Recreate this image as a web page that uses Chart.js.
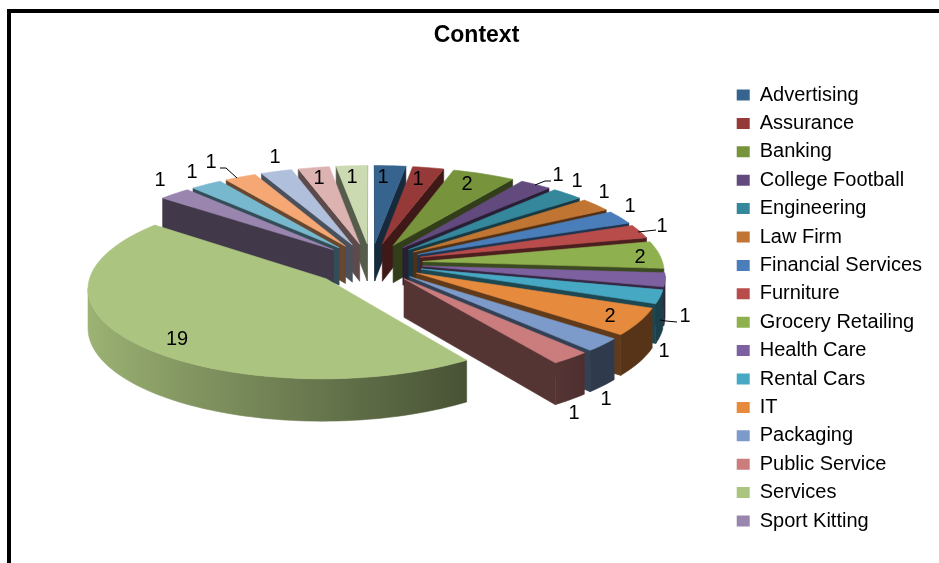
<!DOCTYPE html>
<html lang="en">

<head>
    <meta charset="UTF-8" />
    <title>Context</title>
    <script src="https://cdn.jsdelivr.net/npm/chart.js"></script>
    <style>
        body {
            margin: 0;
            background: white;
            overflow: hidden;
        }

        #frame {
            position: absolute;
            left: 7px;
            top: 9px;
            right: 0;
            bottom: 0;
            border-left: 4px solid black;
            border-top: 4px solid black;
        }

        canvas {
            position: absolute;
            left: 0;
            top: 0;
        }
    </style>
</head>

<body>
    <div id="frame"></div>
    <canvas id="contextChart" width="939" height="563" role="img" aria-label="3D exploded pie chart of context"></canvas>

    <script>
        // the last five slices have no name: the legend in the picture stops at Sport Kitting
        const categories = ['Advertising', 'Assurance', 'Banking', 'College Football', 'Engineering', 'Law Firm',
            'Financial Services', 'Furniture', 'Grocery Retailing', 'Health Care', 'Rental Cars', 'IT', 'Packaging',
            'Public Service', 'Services', 'Sport Kitting', '', '', '', '', ''];
        const counts = [1, 1, 2, 1, 1, 1, 1, 1, 2, 1, 1, 2, 1, 1, 19, 1, 1, 1, 1, 1, 1];
        const colors = ['#37638F', '#953A38', '#77933C', '#624A7E', '#35879C', '#C07533', '#4A7EBB', '#B84C4A',
            '#8FB04F', '#7D60A0', '#46A8C2', '#E68A3E', '#7C9BCA', '#CB7C7C', '#ABC47F', '#9A85AE', '#77B8CF',
            '#F5A873', '#AFBFDC', '#DDB3B2', '#CCDAB2'];

        // hand placed data labels, same order as counts
        const labelSpots = [[383, 177], [418, 179], [467, 184], [558, 175], [577, 181], [604, 192], [630, 206],
            [662, 226], [640, 257], [685, 316], [664, 351], [610, 316], [606, 399], [574, 413], [177, 339],
            [160, 180], [192, 172], [211, 162], [275, 157], [319, 178], [352, 177]];
        const leaders = [
            [[535, 185], [545, 181], [551, 181]],
            [[638, 232], [656, 230]],
            [[660, 320], [666, 321], [677, 322]],
            [[237, 178], [226, 168], [220, 168]]
        ];

        const pie = { cx: 371, cy: 263, radius: 240, tilt: 0.38, persp: 0.1, depth: 38, explode: 52 };
        // the big slice sits further out and a little smaller than the rest
        const sliceTweaks = { 14: { explode: 60, radius: 0.97 } };

        function project(x, y, z) {
            const s = 1 + pie.persp * y / pie.radius;
            return { x: pie.cx + x * s, y: pie.cy + y * pie.tilt * s + z * s };
        }

        function shade(hex, f) {
            const n = parseInt(hex.slice(1), 16);
            const r = Math.round((n >> 16) * f), g = Math.round(((n >> 8) & 255) * f), b = Math.round((n & 255) * f);
            return `rgb(${r},${g},${b})`;
        }

        function rimShade(a) {
            return Math.max(0.38, Math.min(0.92, 0.6 - 0.32 * Math.sin(a)));
        }

        function fillPoly(ctx, pts, color) {
            ctx.beginPath();
            pts.forEach((p, i) => i ? ctx.lineTo(p.x, p.y) : ctx.moveTo(p.x, p.y));
            ctx.closePath();
            ctx.fillStyle = color;
            ctx.strokeStyle = color;
            ctx.lineWidth = 0.6;
            ctx.fill();
            ctx.stroke();
        }

        function drawSlice(ctx, arc, i) {
            const color = colors[i];
            const tweak = sliceTweaks[i] || {};
            const explode = tweak.explode || pie.explode;
            const radius = pie.radius * (tweak.radius || 1);
            // chart.js angles start at 3 o'clock, the projection wants clock angles from the top
            const a0 = arc.startAngle + Math.PI / 2;
            const a1 = arc.endAngle + Math.PI / 2;
            const mid = (a0 + a1) / 2;
            const ox = Math.sin(mid) * explode;
            const oy = -Math.cos(mid) * explode;

            const ring = [{ x: ox, y: oy, a: null }];
            const steps = Math.max(4, Math.ceil((a1 - a0) / 0.03));
            for (let k = 0; k <= steps; k++) {
                const a = a0 + (a1 - a0) * k / steps;
                ring.push({ x: ox + Math.sin(a) * radius, y: oy - Math.cos(a) * radius, a: a });
            }

            const top = ring.map(p => project(p.x, p.y, 0));
            const low = ring.map(p => project(p.x, p.y, pie.depth));

            // flat cut faces
            for (const [p, q] of [[0, 1], [ring.length - 1, 0]]) {
                if (top[q].x - top[p].x < 0) fillPoly(ctx, [top[p], top[q], low[q], low[p]], shade(color, 0.42));
            }

            // curved outer wall, one polygon with a gradient so no seams show
            const seen = [];
            for (let k = 1; k < ring.length - 1; k++) {
                if (top[k + 1].x - top[k].x < 0) {
                    if (!seen.length) seen.push(k);
                    seen.push(k + 1);
                }
            }
            if (seen.length) {
                const upper = seen.map(k => top[k]);
                const lower = seen.map(k => low[k]).reverse();
                const xs = upper.map(p => p.x);
                const minX = Math.min(...xs), maxX = Math.max(...xs);
                const grad = ctx.createLinearGradient(minX, 0, maxX, 0);
                seen.forEach(k => {
                    grad.addColorStop((top[k].x - minX) / Math.max(1, maxX - minX), shade(color, rimShade(ring[k].a)));
                });
                fillPoly(ctx, upper.concat(lower), grad);
            }

            fillPoly(ctx, top, color);
        }

        const pie3d = {
            id: 'pie3d',
            beforeDatasetsDraw(chart) {
                const ctx = chart.ctx;
                const arcs = chart.getDatasetMeta(0).data;
                const order = arcs.map((arc, i) => i).sort((p, q) => {
                    const mp = (arcs[p].startAngle + arcs[p].endAngle) / 2 + Math.PI / 2;
                    const mq = (arcs[q].startAngle + arcs[q].endAngle) / 2 + Math.PI / 2;
                    return Math.cos(mq) - Math.cos(mp);
                });
                ctx.save();
                order.forEach(i => drawSlice(ctx, arcs[i], i));

                ctx.strokeStyle = 'black';
                ctx.lineWidth = 1;
                leaders.forEach(line => {
                    ctx.beginPath();
                    line.forEach((p, i) => i ? ctx.lineTo(p[0], p[1]) : ctx.moveTo(p[0], p[1]));
                    ctx.stroke();
                });

                ctx.fillStyle = 'black';
                ctx.font = '20px "Liberation Sans"';
                ctx.textAlign = 'center';
                ctx.textBaseline = 'middle';
                counts.forEach((v, i) => ctx.fillText(String(v), labelSpots[i][0], labelSpots[i][1]));
                ctx.restore();
                return false; // the flat arcs are not wanted
            }
        };

        new Chart(document.getElementById('contextChart'), {
            type: 'pie',
            plugins: [pie3d],
            data: {
                labels: categories,
                datasets: [{ data: counts, backgroundColor: colors, borderWidth: 0 }]
            },
            options: {
                responsive: false,
                animation: false,
                layout: { padding: { left: 21, right: 7, top: 22, bottom: 0 } },
                plugins: {
                    tooltip: { enabled: false },
                    title: {
                        display: true,
                        text: 'Context',
                        color: 'black',
                        font: { family: '"Liberation Sans"', size: 23, weight: 'bold' },
                        padding: { top: 0, bottom: 27 }
                    },
                    legend: {
                        position: 'right',
                        align: 'start',
                        fullSize: false,
                        labels: {
                            color: 'black',
                            font: { family: '"Liberation Sans"', size: 20 },
                            boxWidth: 13,
                            boxHeight: 11,
                            padding: 8.4,
                            filter: item => item.text !== ''
                        }
                    }
                }
            }
        });
    </script>
</body>

</html>
